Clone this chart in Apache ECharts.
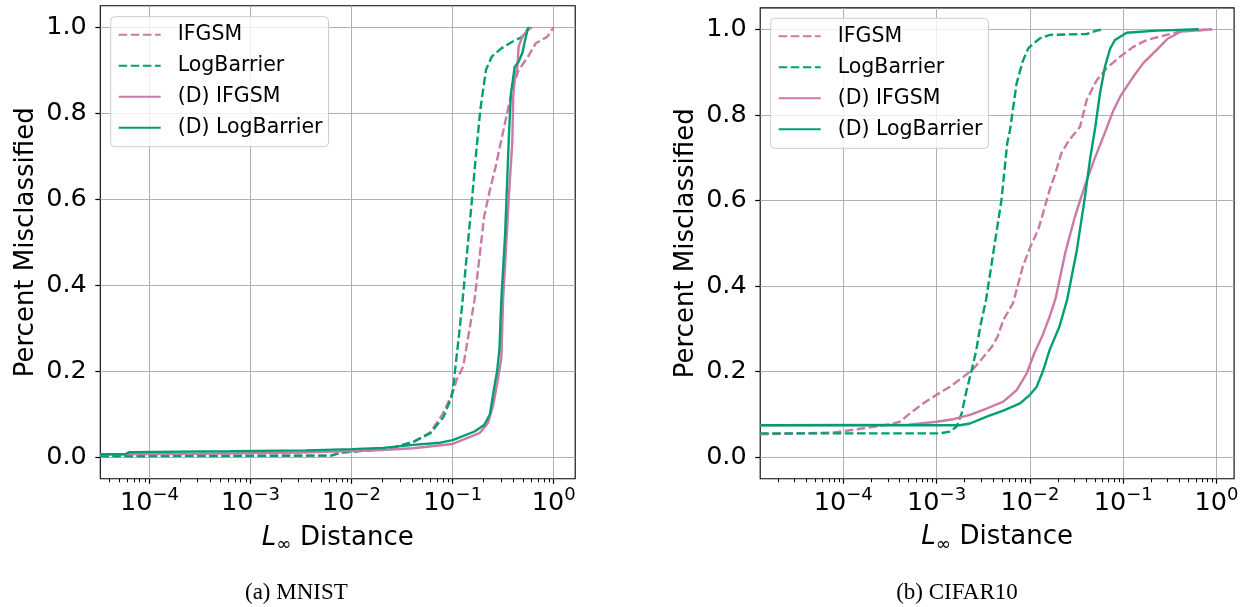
<!DOCTYPE html>
<html><head><meta charset="utf-8">
<script src="https://cdn.jsdelivr.net/npm/echarts@6/dist/echarts.min.js"></script>
<style>html,body{margin:0;padding:0;background:#fff}#c{width:1246px;height:607px}</style>
</head><body><div id="c"></div>
<script>
const seriesNames = ['IFGSM', 'LogBarrier', '(D) IFGSM', '(D) LogBarrier'];
const captions = ['(a) MNIST', '(b) CIFAR10'];
const yTicks = [0, 0.2, 0.4, 0.6, 0.8, 1.0];
const xTicks = [1e-4, 1e-3, 1e-2, 1e-1, 1];
const mnistMinorTicks = [4e-5,5e-5,6e-5,7e-5,8e-5,9e-5,2e-4,3e-4,4e-4,5e-4,6e-4,7e-4,8e-4,9e-4,2e-3,3e-3,4e-3,5e-3,6e-3,7e-3,8e-3,9e-3,0.02,0.03,0.04,0.05,0.06,0.07,0.08,0.09,0.2,0.3,0.4,0.5,0.6,0.7,0.8,0.9];
const cifarMinorTicks = [2e-5,3e-5,4e-5,5e-5,6e-5,7e-5,8e-5,9e-5,2e-4,3e-4,4e-4,5e-4,6e-4,7e-4,8e-4,9e-4,2e-3,3e-3,4e-3,5e-3,6e-3,7e-3,8e-3,9e-3,0.02,0.03,0.04,0.05,0.06,0.07,0.08,0.09,0.2,0.3,0.4,0.5,0.6,0.7,0.8,0.9];

// MNIST
const mnistIfgsmX = [3.26e-5, 6.3e-3, 7.9e-3, 0.0158, 0.0251, 0.0407, 0.0603, 0.0794, 0.1, 0.1096, 0.127, 0.1445, 0.1648, 0.2051, 0.2339, 0.2667, 0.3034, 0.3459, 0.3945, 0.4498, 0.5585, 0.6653, 0.863, 1.0];
const mnistIfgsmY = [0.002, 0.004, 0.011, 0.017, 0.022, 0.035, 0.058, 0.10, 0.15, 0.18, 0.211, 0.288, 0.366, 0.56, 0.622, 0.676, 0.738, 0.80, 0.862, 0.90, 0.932, 0.963, 0.978, 1.0];
const mnistLogBarrierX = [3.26e-5, 6.3e-3, 7.9e-3, 0.0158, 0.0251, 0.0407, 0.0603, 0.0813, 0.0977, 0.1035, 0.1067, 0.1161, 0.1256, 0.1552, 0.1694, 0.1879, 0.2138, 0.2443, 0.3034, 0.3936, 0.4898, 0.5754];
const mnistLogBarrierY = [0.003, 0.004, 0.011, 0.017, 0.022, 0.036, 0.056, 0.094, 0.141, 0.18, 0.211, 0.288, 0.366, 0.598, 0.699, 0.808, 0.901, 0.932, 0.951, 0.967, 0.978, 1.0];
const mnistDIfgsmX = [3.26e-5, 3.16e-4, 3.16e-3, 0.01, 0.02, 0.0407, 0.1, 0.1862, 0.2239, 0.2512, 0.2754, 0.3034, 0.3162, 0.3311, 0.3631, 0.389, 0.3981, 0.4111, 0.4375, 0.4498, 0.4898, 0.5585, 0.6095];
const mnistDIfgsmY = [0.007, 0.008, 0.011, 0.0147, 0.017, 0.021, 0.031, 0.057, 0.08, 0.12, 0.17, 0.23, 0.37, 0.45, 0.62, 0.73, 0.84, 0.877, 0.908, 0.955, 0.978, 0.994, 1.0];
const mnistDLogBarrierX = [3.26e-5, 5.75e-5, 6.31e-5, 6.31e-4, 3.55e-3, 0.01, 0.0204, 0.0407, 0.0752, 0.1, 0.1648, 0.2051, 0.2339, 0.2570, 0.2754, 0.2904, 0.3034, 0.3311, 0.3614, 0.3776, 0.3945, 0.4111, 0.4498, 0.4898, 0.5212, 0.5585];
const mnistDLogBarrierY = [0.007, 0.007, 0.012, 0.014, 0.016, 0.019, 0.022, 0.029, 0.034, 0.04, 0.06, 0.075, 0.10, 0.16, 0.20, 0.25, 0.366, 0.521, 0.753, 0.847, 0.877, 0.908, 0.92, 0.94, 0.97, 1.0];

// CIFAR10
const cifarIfgsmX = [1.285e-5, 3.981e-5, 7.943e-5, 1.932e-4, 3.162e-4, 4.046e-4, 5.188e-4, 7.194e-4, 1e-3, 1.39e-3, 1.932e-3, 2.421e-3, 3.076e-3, 3.908e-3, 4.508e-3, 5.2e-3, 6.592e-3, 8.375e-3, 0.01012, 0.01225, 0.01416, 0.01629, 0.01879, 0.02168, 0.0263, 0.03443, 0.04064, 0.052, 0.06653, 0.09247, 0.1282, 0.1786, 0.2477, 0.4178, 0.8974];
const cifarIfgsmY = [0.054, 0.056, 0.058, 0.07, 0.077, 0.083, 0.103, 0.126, 0.146, 0.165, 0.188, 0.204, 0.231, 0.258, 0.282, 0.321, 0.36, 0.445, 0.492, 0.531, 0.578, 0.625, 0.664, 0.71, 0.741, 0.772, 0.835, 0.881, 0.909, 0.936, 0.959, 0.975, 0.983, 0.995, 1.0];
const cifarLogBarrierX = [1.285e-5, 1.084e-3, 1.39e-3, 1.641e-3, 1.858e-3, 2.099e-3, 2.377e-3, 2.661e-3, 2.931e-3, 3.388e-3, 4.093e-3, 4.955e-3, 5.715e-3, 6.124e-3, 7.211e-3, 8.375e-3, 9.616e-3, 0.01282, 0.0164, 0.04064, 0.052, 0.06124];
const cifarLogBarrierY = [0.056, 0.056, 0.06, 0.072, 0.103, 0.157, 0.204, 0.25, 0.305, 0.368, 0.484, 0.601, 0.734, 0.765, 0.874, 0.925, 0.956, 0.979, 0.987, 0.989, 0.997, 1.0];
const cifarDIfgsmX = [1.285e-5, 5.012e-4, 1e-3, 1.51e-3, 2.28e-3, 3.443e-3, 5.188e-3, 7.211e-3, 9.247e-3, 0.01114, 0.01349, 0.01629, 0.01879, 0.02388, 0.03034, 0.03846, 0.04887, 0.06457, 0.0787, 0.09247, 0.1122, 0.1282, 0.1641, 0.2286, 0.2992, 0.4178, 0.8974];
const cifarDIfgsmY = [0.075, 0.076, 0.083, 0.089, 0.099, 0.114, 0.13, 0.157, 0.196, 0.243, 0.282, 0.329, 0.37, 0.477, 0.562, 0.632, 0.695, 0.762, 0.811, 0.842, 0.87, 0.889, 0.921, 0.952, 0.978, 0.995, 1.0];
const cifarDLogBarrierX = [1.285e-5, 1.778e-3, 2.28e-3, 3.443e-3, 5.188e-3, 7.834e-3, 0.01, 0.01183, 0.01393, 0.01629, 0.0207, 0.02506, 0.03184, 0.03846, 0.04436, 0.05012, 0.05636, 0.06383, 0.07244, 0.08166, 0.1089, 0.2286, 0.6457];
const cifarDLogBarrierY = [0.075, 0.075, 0.079, 0.095, 0.109, 0.126, 0.146, 0.165, 0.204, 0.251, 0.305, 0.368, 0.484, 0.601, 0.70, 0.77, 0.85, 0.913, 0.955, 0.975, 0.992, 0.997, 1.0];

const PINK = '#cc79a7', GREEN = '#009e73';
const FONT = 'DejaVu Sans';
const zip = (xs, ys) => xs.map((x, i) => [x, ys[i]]);

function powLabel(v) {
  const e = Math.round(Math.log10(v));
  const s = e < 0 ? '\u2212' + (-e) : String(e);
  return '{b|10}{s|' + s + '}';
}

function xAxes(gridIndex, min, max, minor) {
  return [{
    type: 'log', logBase: 10, gridIndex, min, max, position: 'bottom',
    axisLine: {show: false, onZero: false},
    axisTick: {show: true, customValues: xTicks, length: 5, lineStyle: {color: '#000', width: 1.2}},
    axisLabel: {
      customValues: xTicks, margin: 7.7, formatter: powLabel,
      rich: {
        b: {fontFamily: FONT, fontSize: 25.5, lineHeight: 30, verticalAlign: 'bottom', color: '#000'},
        s: {fontFamily: FONT, fontSize: 18, lineHeight: 18, verticalAlign: 'top', color: '#000'}
      }
    },
    splitLine: {show: true, lineStyle: {color: '#b0b0b0', width: 1}},
    name: '{it|L}{sub|\u221e}{n| Distance}', nameLocation: 'middle', nameGap: 46,
    nameTextStyle: {
      rich: {
        it: {fontFamily: FONT, fontStyle: 'italic', fontSize: 26, lineHeight: 30, verticalAlign: 'top', color: '#000'},
        sub: {fontFamily: FONT, fontSize: 18.5, lineHeight: 18.5, verticalAlign: 'bottom', color: '#000'},
        n: {fontFamily: FONT, fontSize: 26, lineHeight: 30, verticalAlign: 'top', color: '#000'}
      }
    }
  }, {
    type: 'log', logBase: 10, gridIndex, min, max, position: 'bottom', offset: 0,
    axisLine: {show: false, onZero: false},
    axisTick: {show: true, customValues: minor, length: 3.5, lineStyle: {color: '#000', width: 1}},
    axisLabel: {show: false},
    splitLine: {show: false}
  }];
}

function yAxis(gridIndex) {
  return {
    type: 'value', gridIndex, min: -0.05, max: 1.05,
    axisLine: {show: false},
    axisTick: {show: true, customValues: yTicks, length: 5, lineStyle: {color: '#000', width: 1.2}},
    axisLabel: {customValues: yTicks, margin: 13.5, fontFamily: FONT, fontSize: 25.5, color: '#000',
      formatter: v => v.toFixed(1)},
    splitLine: {show: true, lineStyle: {color: '#b0b0b0', width: 1}},
    name: 'Percent Misclassified', nameLocation: 'middle', nameGap: 61,
    nameTextStyle: {fontFamily: FONT, fontSize: 26, color: '#000'}
  };
}

function lineSeries(name, xi, yi, xs, ys, color, dashed) {
  return {
    type: 'line', name, xAxisIndex: xi, yAxisIndex: yi, data: zip(xs, ys),
    symbol: 'none', smooth: false, animation: false,
    lineStyle: {color, width: 2.4, type: dashed ? [8.5, 3.6] : 'solid'},
    itemStyle: {color}
  };
}

function legendAt(left, top) {
  return {
    orient: 'vertical', left, top, data: seriesNames,
    itemWidth: 42, itemHeight: 20, itemGap: 10,
    padding: [7.5, 6, 8.5, 7],
    backgroundColor: 'rgba(255,255,255,0.8)', borderColor: '#cccccc', borderWidth: 1, borderRadius: 4,
    itemStyle: {opacity: 0, borderWidth: 0},
    textStyle: {fontFamily: FONT, fontSize: 20.5, lineHeight: 20, color: '#000', padding: [0, 0, 0, 12]},
    selectedMode: false
  };
}

const chart = echarts.init(document.getElementById('c'), null, {renderer: 'canvas'});
chart.setOption({
  animation: false,
  backgroundColor: '#fff',
  grid: [
    {left: 100.3, top: 5.8, width: 474.9, height: 473, show: true, borderColor: '#000', borderWidth: 1.1, backgroundColor: 'transparent'},
    {left: 760.2, top: 7.9, width: 473.9, height: 470.8, show: true, borderColor: '#000', borderWidth: 1.1, backgroundColor: 'transparent'}
  ],
  xAxis: [...xAxes(0, 3.26e-5, 1.633, mnistMinorTicks), ...xAxes(1, 1.285e-5, 1.545, cifarMinorTicks)],
  yAxis: [yAxis(0), yAxis(1)],
  legend: [legendAt(110.7, 16.7), legendAt(770.7, 18.3)],
  graphic: [
    {type: 'text', x: 296.4, y: 593, style: {text: captions[0], font: '23px "Liberation Serif"', fill: '#000', textAlign: 'center', textVerticalAlign: 'middle'}},
    {type: 'text', x: 957, y: 593, style: {text: captions[1], font: '23px "Liberation Serif"', fill: '#000', textAlign: 'center', textVerticalAlign: 'middle'}}
  ],
  series: [
    lineSeries(seriesNames[0], 0, 0, mnistIfgsmX, mnistIfgsmY, PINK, true),
    lineSeries(seriesNames[1], 0, 0, mnistLogBarrierX, mnistLogBarrierY, GREEN, true),
    lineSeries(seriesNames[2], 0, 0, mnistDIfgsmX, mnistDIfgsmY, PINK, false),
    lineSeries(seriesNames[3], 0, 0, mnistDLogBarrierX, mnistDLogBarrierY, GREEN, false),
    lineSeries(seriesNames[0], 2, 1, cifarIfgsmX, cifarIfgsmY, PINK, true),
    lineSeries(seriesNames[1], 2, 1, cifarLogBarrierX, cifarLogBarrierY, GREEN, true),
    lineSeries(seriesNames[2], 2, 1, cifarDIfgsmX, cifarDIfgsmY, PINK, false),
    lineSeries(seriesNames[3], 2, 1, cifarDLogBarrierX, cifarDLogBarrierY, GREEN, false)
  ]
});
</script></body></html>
